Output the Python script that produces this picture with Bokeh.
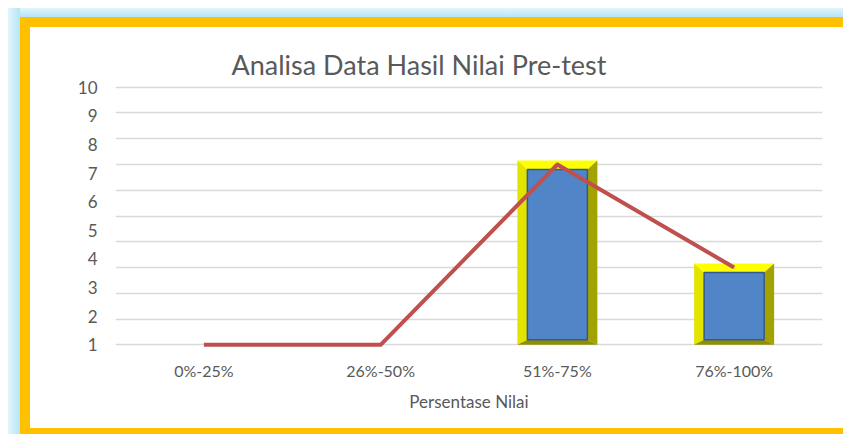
from bokeh.plotting import figure
from bokeh.models import FixedTicker, Range1d
from bokeh.embed import file_html
from bokeh.resources import INLINE

# ---- data ----
categories = ["0%-25%", "26%-50%", "51%-75%", "76%-100%"]
bar_values = [1, 1, 7.3, 3.7]
line_values = [1, 1, 7.3, 3.7]
y_tick_values = [1, 2, 3, 4, 5, 6, 7, 8, 9, 10]
y_tick_labels = ["1", "2", "3", "4", "5", "6", "7", "8", "9", "10"]
grid_levels = [1.0, 1.9, 2.8, 3.7, 4.6, 5.5, 6.4, 7.3, 8.2, 9.1, 10.0]
title_text = "Analisa Data Hasil Nilai Pre-test"
x_title = "Persentase Nilai"

FONT = "Lato"
TXT = "#595959"
W, H = 843, 434
BL, BR, BT, BB = 115, 21, 81, 84

# frame decoration drawn as CSS background behind a transparent border area
frame_css = {
    "background-color": "white",
    "background-image": ", ".join([
        "linear-gradient(#ffc000, #ffc000)",
        "linear-gradient(#ffc000, #ffc000)",
        "linear-gradient(#ffc000, #ffc000)",
        "linear-gradient(to right, #e2f5fc, #b5e5f6)",
        "linear-gradient(to bottom, #e2f5fc, #b5e5f6)",
    ]),
    "background-size": "823px 10px, 10px 417px, 823px 6px, 12px 426px, 835px 9px",
    "background-position": "20px 17px, 20px 17px, 20px 428px, 8px 8px, 8px 8px",
    "background-repeat": "no-repeat",
}

p = figure(width=W, height=H, output_backend="svg", toolbar_location=None,
           x_range=Range1d(0, len(categories)), y_range=Range1d(0.8, 10.2),
           min_border_left=BL, min_border_right=BR, min_border_top=BT, min_border_bottom=BB,
           styles=frame_css)
p.background_fill_color = "white"
p.border_fill_color = None
p.outline_line_color = None

# title
p.title.text = title_text
p.title.align = "left"
p.title.offset = 116
p.title.text_font = FONT
p.title.text_font_size = "27px"
p.title.text_font_style = "normal"
p.title.text_color = TXT
p.title.standoff = 2

# axes
xc = [i + 0.5 for i in range(len(categories))]
p.xaxis.ticker = FixedTicker(ticks=xc)
p.xaxis.major_label_overrides = {x: c for x, c in zip(xc, categories)}
p.xaxis.axis_label = x_title
p.yaxis.ticker = FixedTicker(ticks=y_tick_values)
p.yaxis.major_label_overrides = {v: l for v, l in zip(y_tick_values, y_tick_labels)}
for ax in (p.xaxis[0], p.yaxis[0]):
    ax.axis_line_color = None
    ax.major_tick_line_color = None
    ax.minor_tick_line_color = None
    ax.major_tick_out = 0
    ax.major_tick_in = 0
    ax.major_label_text_font = FONT
    ax.major_label_text_color = TXT
    ax.axis_label_text_font = FONT
    ax.axis_label_text_font_size = "17px"
    ax.axis_label_text_font_style = "normal"
    ax.axis_label_text_color = TXT
p.xaxis.major_label_text_font_size = "16px"
p.yaxis.major_label_text_font_size = "17px"
p.yaxis.major_label_standoff = 18
p.xaxis.major_label_standoff = 10
p.xaxis.axis_label_standoff = 8

p.xgrid.grid_line_color = None
p.ygrid.ticker = FixedTicker(ticks=grid_levels)
p.ygrid.grid_line_color = "#d9d9d9"
p.ygrid.grid_line_width = 1.5

# bevelled bars
base = y_tick_values[0]
px_y = (p.y_range.end - p.y_range.start) / (H - BT - BB)
px_x = len(categories) / (W - BL - BR)
half = 40 * px_x
tx = 10 * px_x
ty_top = 9 * px_y
ty_bot = 5 * px_y
top_xs, top_ys, left_xs, left_ys, right_xs, right_ys, bot_xs, bot_ys = [], [], [], [], [], [], [], []
in_l, in_r, in_b, in_t = [], [], [], []
for x, v in zip(xc, bar_values):
    if v <= base:
        continue
    L, R, B, T = x - half, x + half, base, v + 4 * px_y
    iL, iR, iB, iT = L + tx, R - tx, B + ty_bot, T - ty_top
    top_xs.append([L, R, iR, iL]); top_ys.append([T, T, iT, iT])
    left_xs.append([L, iL, iL, L]); left_ys.append([B, iB, iT, T])
    right_xs.append([R, R, iR, iR]); right_ys.append([B, T, iT, iB])
    bot_xs.append([L, R, iR, iL]); bot_ys.append([B, B, iB, iB])
    in_l.append(iL); in_r.append(iR); in_b.append(iB); in_t.append(iT)

p.patches(top_xs, top_ys, fill_color="#ffff00", line_color=None)
p.patches(left_xs, left_ys, fill_color="#e3e300", line_color=None)
p.patches(right_xs, right_ys, fill_color="#a2a200", line_color=None)
p.patches(bot_xs, bot_ys, fill_color="#8f8f00", line_color=None)
p.quad(left=in_l, right=in_r, bottom=in_b, top=in_t, fill_color="#5085c7", line_color="#34598a", line_width=1.5)

# frequency line
p.line(xc, line_values, line_color="#c0504d", line_width=4, line_join="round")

open("out.html", "w").write(file_html(p, INLINE))
